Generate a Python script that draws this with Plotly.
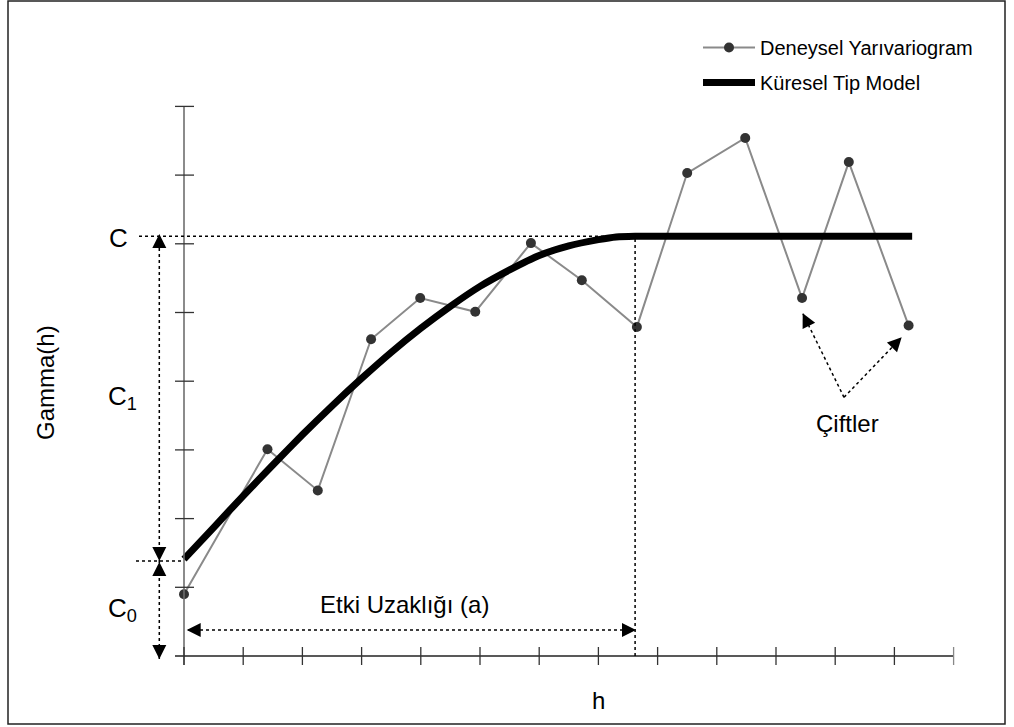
import math
import plotly.graph_objects as go

# ---- data (in axis units: 1 unit = 1 tick) ----
h_exp = [0.00, 1.41, 2.26, 3.16, 3.99, 4.92, 5.86, 6.72, 7.65, 8.50, 9.48, 10.44, 11.23, 12.24]
g_exp = [0.90, 3.01, 2.41, 4.61, 5.21, 5.01, 6.01, 5.47, 4.79, 7.03, 7.54, 5.21, 7.19, 4.81]

h_mod = [0.0, 0.5, 1.0, 1.5, 2.0, 2.5, 3.0, 3.5, 4.0, 4.5, 5.0, 5.5, 6.0, 6.5, 7.0, 7.3, 7.62, 9.0, 12.3]
g_mod = [1.41, 1.87, 2.33, 2.78, 3.22, 3.64, 4.04, 4.42, 4.77, 5.09, 5.38, 5.62, 5.83, 5.97, 6.06, 6.10, 6.11, 6.11, 6.11]

x_ticks = list(range(0, 14))
y_ticks = list(range(1, 9))

C0 = 1.383     # nugget level
C = 6.11       # sill level
A = 7.62       # range

series_names = ["Deneysel Yarıvariogram", "Küresel Tip Model"]

# ---- pixel geometry ----
W, H = 1014, 727
X0PX, XS = 184.0, 59.2
Y0PX, YS = 656.0, 68.7


def ux(px):
    return (px - X0PX) / XS


def uy(py):
    return (Y0PX - py) / YS


fig = go.Figure()

fig.add_trace(go.Scatter(
    x=h_exp, y=g_exp, mode="lines+markers", name=series_names[0],
    line=dict(color="#8a8a8a", width=2),
    marker=dict(color="#333333", size=10),
    legendgroup="a", cliponaxis=False,
))
fig.add_trace(go.Scatter(
    x=h_mod, y=g_mod, mode="lines", name=series_names[1],
    line=dict(color="#000000", width=7, shape="spline", smoothing=0.6),
    legendgroup="b", cliponaxis=False,
))

shapes = []
# outer frame
shapes.append(dict(type="rect", xref="paper", yref="paper",
                   x0=8 / W, x1=1005 / W, y0=1 - 724 / H, y1=1 - 1 / H,
                   line=dict(color="#222222", width=1.5), fillcolor="rgba(0,0,0,0)"))
# axes
shapes.append(dict(type="line", x0=0, x1=0, y0=uy(665), y1=uy(106),
                   line=dict(color="#6e6e6e", width=1.6)))
shapes.append(dict(type="line", x0=ux(175), x1=x_ticks[-1], y0=0, y1=0,
                   line=dict(color="#222222", width=1.6)))
for t in y_ticks:
    shapes.append(dict(type="line", x0=ux(175), x1=ux(194), y0=t, y1=t,
                       line=dict(color="#333333", width=1.3)))
for t in x_ticks:
    shapes.append(dict(type="line", x0=t, x1=t, y0=uy(665), y1=uy(647),
                       line=dict(color="#333333" if t < x_ticks[-1] else "#888888", width=1.3)))

dot = dict(color="#000000", width=1.5, dash="dot")
# dotted guides
shapes.append(dict(type="line", x0=ux(139), x1=A, y0=C, y1=C, line=dot))
shapes.append(dict(type="line", x0=A, x1=A, y0=0, y1=C, line=dot))
shapes.append(dict(type="line", x0=ux(136), x1=0, y0=C0, y1=C0, line=dot))
xv = ux(159.3)
shapes.append(dict(type="line", x0=xv, x1=xv, y0=uy(659), y1=uy(236), line=dot))
ya = uy(630)
shapes.append(dict(type="line", x0=ux(188), x1=ux(634), y0=ya, y1=ya, line=dot))
ox, oy = ux(844), uy(397.3)
t1x, t1y = ux(802.7), uy(313.3)
t2x, t2y = ux(901.7), uy(337.3)
shapes.append(dict(type="line", x0=ox, x1=t1x, y0=oy, y1=t1y, line=dot))
shapes.append(dict(type="line", x0=ox, x1=t2x, y0=oy, y1=t2y, line=dot))

annotations = []


def head(x, y, ax, ay):
    annotations.append(dict(x=x, y=y, ax=ax, ay=ay, text="", showarrow=True,
                            arrowhead=2, arrowsize=2.0, arrowwidth=1.4,
                            arrowcolor="#000000"))


L = 14
head(xv, uy(234), 0, L)
head(xv, uy(561), 0, -L)
head(xv, uy(562), 0, L)
head(xv, uy(659), 0, -L)
head(ux(186.7), ya, L, 0)
head(ux(636), ya, -L, 0)
for (tx, ty, px, py) in [(t1x, t1y, 802.7, 313.3), (t2x, t2y, 901.7, 337.3)]:
    dx, dy = 844 - px, 397.3 - py
    n = math.hypot(dx, dy)
    head(tx, ty, dx / n * L, dy / n * L)

font = "Liberation Sans, Arial, Helvetica, sans-serif"


def label(text, px, py, size, angle=0):
    annotations.append(dict(x=ux(px), y=uy(py), text=text, showarrow=False,
                            font=dict(family=font, size=size, color="#000000"),
                            textangle=angle, xanchor="center", yanchor="middle"))


label("C", 118, 238, 26)
label("C<sub>1</sub>", 122, 397, 26)
label("C<sub>0</sub>", 122, 609, 26)
label("Gamma(h)", 45, 383, 24, -90)
label("h", 598, 700, 24)
label("Etki Uzaklığı (a)", 404, 604, 24)
label("Çiftler", 847, 423, 24)

fig.update_layout(
    width=W, height=H,
    margin=dict(l=0, r=0, t=0, b=0),
    paper_bgcolor="white", plot_bgcolor="white",
    xaxis=dict(range=[ux(0), ux(W)], visible=False, fixedrange=True),
    yaxis=dict(range=[uy(H), uy(0)], visible=False, fixedrange=True),
    shapes=shapes, annotations=annotations,
    legend=dict(x=698 / W, y=1 - 28 / H, xanchor="left", yanchor="top",
                font=dict(family=font, size=20, color="#000000"),
                bgcolor="rgba(0,0,0,0)", tracegroupgap=6, itemwidth=52),
    showlegend=True,
)

fig.write_html("out.html", config={"displayModeBar": False},
               post_script="document.body.style.margin='0';")
